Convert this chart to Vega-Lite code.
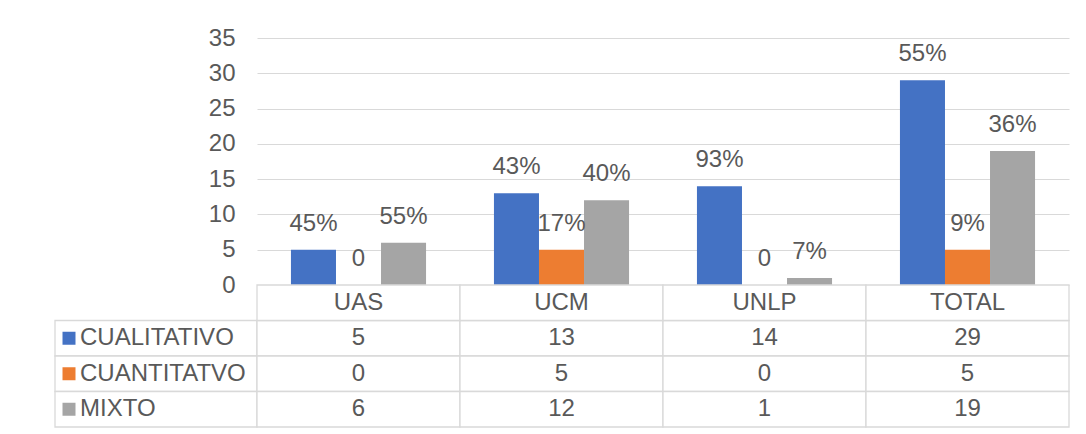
{
  "$schema": "https://vega.github.io/schema/vega-lite/v6.json",
  "padding": {"left": 54, "top": 26, "right": 10, "bottom": 0},
  "background": "white",
  "config": {
    "view": {"stroke": null},
    "font": "Liberation Sans",
    "text": {"font": "Liberation Sans", "fontSize": 24, "color": "#595959"}
  },
  "datasets": {
    "main": [
      {"cat": "UAS", "serie": "CUALITATIVO", "value": 5, "label": "45%"},
      {"cat": "UAS", "serie": "CUANTITATVO", "value": 0, "label": "0"},
      {"cat": "UAS", "serie": "MIXTO", "value": 6, "label": "55%"},
      {"cat": "UCM", "serie": "CUALITATIVO", "value": 13, "label": "43%"},
      {"cat": "UCM", "serie": "CUANTITATVO", "value": 5, "label": "17%"},
      {"cat": "UCM", "serie": "MIXTO", "value": 12, "label": "40%"},
      {"cat": "UNLP", "serie": "CUALITATIVO", "value": 14, "label": "93%"},
      {"cat": "UNLP", "serie": "CUANTITATVO", "value": 0, "label": "0"},
      {"cat": "UNLP", "serie": "MIXTO", "value": 1, "label": "7%"},
      {"cat": "TOTAL", "serie": "CUALITATIVO", "value": 29, "label": "55%"},
      {"cat": "TOTAL", "serie": "CUANTITATVO", "value": 5, "label": "9%"},
      {"cat": "TOTAL", "serie": "MIXTO", "value": 19, "label": "36%"}
    ]
  },
  "columns": 2,
  "spacing": 0,
  "bounds": "flush",
  "concat": [
    {
      "width": 202,
      "height": 247,
      "data": {"values": [{}]},
      "mark": {"type": "text", "text": ""},
      "encoding": {}
    },
    {
      "width": 812,
      "height": 247,
      "data": {"name": "main"},
      "encoding": {
        "x": {"field": "cat", "type": "nominal", "scale": {"type": "band", "domain": ["UAS", "UCM", "UNLP", "TOTAL"], "paddingInner": 0, "paddingOuter": 0}, "axis": null},
        "xOffset": {"field": "serie", "type": "nominal", "scale": {"domain": ["CUALITATIVO", "CUANTITATVO", "MIXTO"], "paddingInner": 0, "paddingOuter": 0.754}},
        "y": {
          "field": "value", "type": "quantitative",
          "scale": {"domain": [0, 35], "nice": false},
          "axis": {
            "values": [0, 5, 10, 15, 20, 25, 30, 35],
            "title": null, "grid": true, "gridColor": "#D9D9D9", "gridWidth": 1,
            "domain": false, "ticks": false, "labelPadding": 22,
            "labelFontSize": 24, "labelColor": "#595959", "labelFont": "Liberation Sans"
          }
        }
      },
      "layer": [
        {
          "mark": {"type": "bar"},
          "encoding": {
            "color": {"field": "serie", "type": "nominal", "scale": {"domain": ["CUALITATIVO", "CUANTITATVO", "MIXTO"], "range": ["#4472C4", "#ED7D31", "#A5A5A5"]}, "legend": null}
          }
        },
        {
          "mark": {"type": "text", "baseline": "middle", "dy": -26, "fontSize": 24, "color": "#595959"},
          "encoding": {"text": {"field": "label"}}
        }
      ]
    },
    {
      "width": 202,
      "height": 142,
      "data": {"name": "main"},
      "transform": [{"aggregate": [{"op": "count", "as": "n"}], "groupby": ["serie"]}],
      "encoding": {
        "y": {"field": "serie", "type": "nominal", "scale": {"type": "band", "domain": ["_h", "CUALITATIVO", "CUANTITATVO", "MIXTO"], "paddingInner": 0, "paddingOuter": 0}, "axis": null}
      },
      "layer": [
        {
          "mark": {"type": "rect", "fill": "white", "stroke": "#D9D9D9", "strokeWidth": 1.3},
          "encoding": {
            "x": {"datum": "_", "type": "nominal", "scale": {"type": "band", "domain": ["_"], "paddingInner": 0, "paddingOuter": 0}, "axis": null}
          }
        },
        {
          "mark": {"type": "point", "shape": "square", "filled": true, "opacity": 1, "size": 169, "xOffset": 14},
          "encoding": {
            "x": {"datum": "_", "type": "nominal", "bandPosition": 0},
            "color": {"field": "serie", "type": "nominal", "scale": {"domain": ["CUALITATIVO", "CUANTITATVO", "MIXTO"], "range": ["#4472C4", "#ED7D31", "#A5A5A5"]}, "legend": null}
          }
        },
        {
          "mark": {"type": "text", "align": "left", "baseline": "middle", "dx": 25, "fontSize": 24, "color": "#595959"},
          "encoding": {
            "x": {"datum": "_", "type": "nominal", "bandPosition": 0},
            "text": {"field": "serie"}
          }
        }
      ]
    },
    {
      "width": 812,
      "height": 142,
      "data": {"name": "main"},
      "layer": [
        {
          "mark": {"type": "rect", "fill": "white", "stroke": "#D9D9D9", "strokeWidth": 1.3},
          "encoding": {
            "x": {"field": "cat", "type": "nominal", "scale": {"type": "band", "domain": ["UAS", "UCM", "UNLP", "TOTAL"], "paddingInner": 0, "paddingOuter": 0}, "axis": null},
            "y": {"field": "serie", "type": "nominal", "scale": {"type": "band", "domain": ["_h", "CUALITATIVO", "CUANTITATVO", "MIXTO"], "paddingInner": 0, "paddingOuter": 0}, "axis": null}
          }
        },
        {
          "mark": {"type": "text", "baseline": "middle", "fontSize": 24, "color": "#595959"},
          "encoding": {
            "x": {"field": "cat", "type": "nominal"},
            "y": {"field": "serie", "type": "nominal"},
            "text": {"field": "value"}
          }
        },
        {
          "transform": [{"aggregate": [{"op": "count", "as": "n"}], "groupby": ["cat"]}],
          "mark": {"type": "rect", "fill": "white", "stroke": "#D9D9D9", "strokeWidth": 1.3},
          "encoding": {
            "x": {"field": "cat", "type": "nominal"},
            "y": {"datum": "_h", "type": "nominal"}
          }
        },
        {
          "transform": [{"aggregate": [{"op": "count", "as": "n"}], "groupby": ["cat"]}],
          "mark": {"type": "text", "baseline": "middle", "fontSize": 24, "color": "#595959"},
          "encoding": {
            "x": {"field": "cat", "type": "nominal"},
            "y": {"datum": "_h", "type": "nominal"},
            "text": {"field": "cat"}
          }
        }
      ]
    }
  ]
}
